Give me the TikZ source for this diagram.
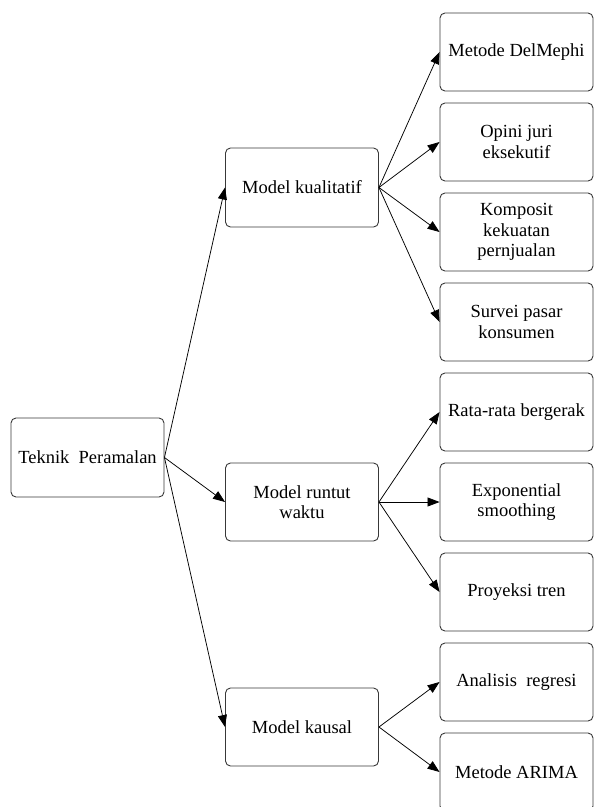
\documentclass[tikz,border=0pt]{standalone}
\usepackage{fontspec}
\setmainfont{Liberation Serif}
\usetikzlibrary{arrows.meta}
\begin{document}
\begin{tikzpicture}[x=1pt,y=-1pt,
  box/.style={draw=black!78,line width=0.9pt,rounded corners=5pt,
    minimum width=153pt,minimum height=78pt,inner sep=0pt,align=center,
    font=\fontsize{18.5}{20.5}\selectfont},
  conn/.style={line width=0.75pt,-{Triangle[length=12pt,width=9pt]}}]
\useasboundingbox (0,0) rectangle (594,807);
\clip (0,0) rectangle (594,807);
\node[box,minimum height=79pt] (tek) at (87.5,457.5) {Teknik\hspace{0.25em} Peramalan};
\node[box,minimum height=79pt] (kual) at (302,187.5) {Model kualitatif};
\node[box] (run) at (302,502) {Model runtut\\waktu};
\node[box] (kaus) at (302,727) {Model kausal};
\node[box] (r1) at (516.5,52) {Metode DelMephi};
\node[box] (r2) at (516.5,142) {Opini juri\\eksekutif};
\node[box] (r3) at (516.5,232) {Komposit\\kekuatan\\pernjualan};
\node[box] (r4) at (516.5,322) {Survei pasar\\konsumen};
\node[box] (r5) at (516.5,412) {Rata-rata bergerak};
\node[box] (r6) at (516.5,502) {Exponential\\smoothing};
\node[box] (r7) at (516.5,592) {Proyeksi tren};
\node[box] (r8) at (516.5,682) {Analisis\hspace{0.25em} regresi};
\node[box] (r9) at (516.5,772) {Metode ARIMA};
\foreach \t in {kual,run,kaus} \draw[conn] (tek.east) -- (\t.west);
\foreach \t in {r1,r2,r3,r4} \draw[conn] (kual.east) -- (\t.west);
\foreach \t in {r5,r6,r7} \draw[conn] (run.east) -- (\t.west);
\foreach \t in {r8,r9} \draw[conn] (kaus.east) -- (\t.west);
\end{tikzpicture}
\end{document}
